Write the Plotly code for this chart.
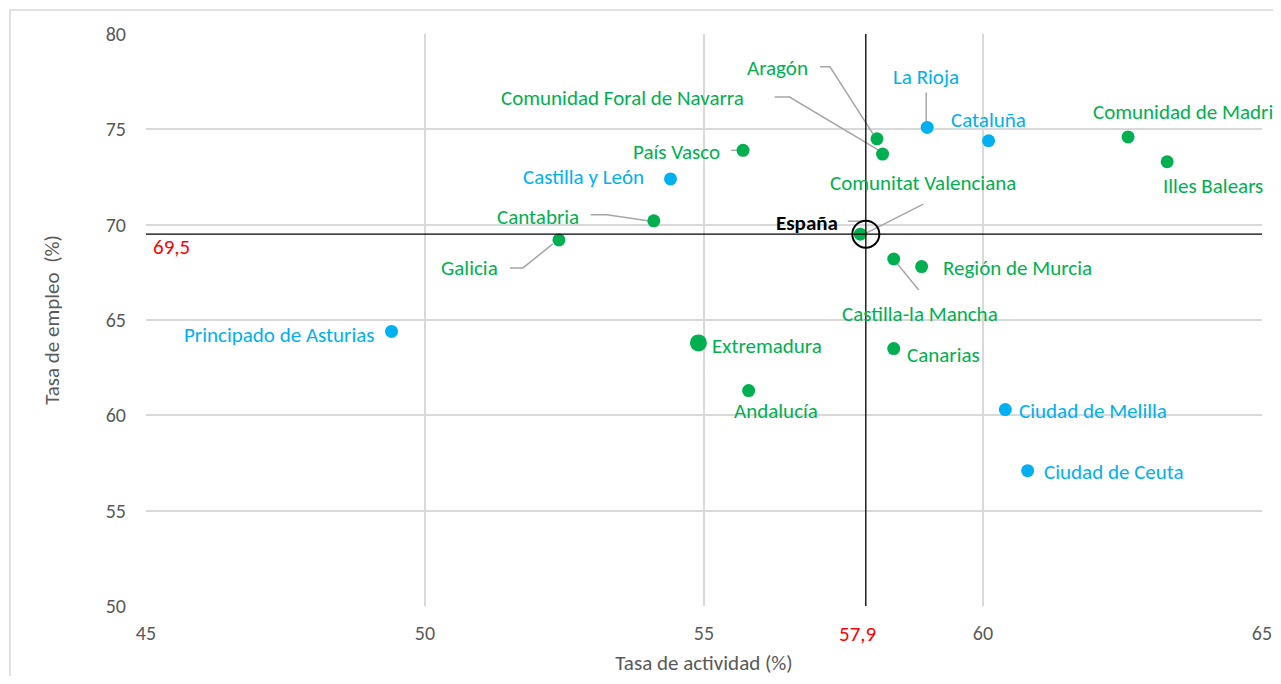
import plotly.graph_objects as go

# datos por comunidad: tasa de actividad (x) y tasa de empleo (y)
regions = ["Principado de Asturias", "Galicia", "Cantabria", "Castilla y León", "País Vasco",
           "Extremadura", "Andalucía", "Aragón", "Comunidad Foral de Navarra", "La Rioja",
           "Cataluña", "Comunitat Valenciana", "Castilla-la Mancha", "Región de Murcia",
           "Canarias", "Ciudad de Melilla", "Ciudad de Ceuta", "Comunidad de Madrid",
           "Illes Balears"]
actividad = [49.4, 52.4, 54.1, 54.4, 55.7, 54.9, 55.8, 58.1, 58.2, 59.0,
             60.1, 57.8, 58.4, 58.9, 58.4, 60.4, 60.8, 62.6, 63.3]
empleo = [64.4, 69.2, 70.2, 72.4, 73.9, 63.8, 61.3, 74.5, 73.7, 75.1,
          74.4, 69.5, 68.2, 67.8, 63.5, 60.3, 57.1, 74.6, 73.3]
grupo = ["b", "g", "g", "b", "g", "g", "g", "g", "g", "b",
         "b", "g", "g", "g", "g", "b", "b", "g", "g"]

espana_x = 57.9
espana_y = 69.5

GREEN = "#00B050"
BLUE = "#00B0F0"
GREY = "#A6A6A6"
FONT = "Calibri, Carlito, Lato, sans-serif"
FS = 21

# la pagina tiene 8px de margen en el body
W, H = 1265, 668
ML, MR, MT, MB = 138, 11, 26, 70
XR = [45, 65]
YR = [50, 80]
kx = (W - ML - MR) / (XR[1] - XR[0])
ky = (H - MT - MB) / (YR[1] - YR[0])

# etiqueta: (dx, dy en px desde el punto, anchor), lineas guia en px
lab_pos = {
    "Principado de Asturias": (-15, 4, "right"),
    "Galicia": (-59, 28, "right"),
    "Cantabria": (-73, -4, "right"),
    "Castilla y León": (-25, -2, "right"),
    "País Vasco": (-21, 2, "right"),
    "Extremadura": (12, 3, "left"),
    "Andalucía": (27, 20, "center"),
    "Aragón": (-67, -71, "right"),
    "Comunidad Foral de Navarra": (-137, -56, "right"),
    "La Rioja": (-1, -50, "center"),
    "Cataluña": (0, -21, "center"),
    "Comunitat Valenciana": (63, -51, "center"),
    "Castilla-la Mancha": (26, 55, "center"),
    "Región de Murcia": (19, 1, "left"),
    "Canarias": (11, 6, "left"),
    "Ciudad de Melilla": (12, 1, "left"),
    "Ciudad de Ceuta": (14, 1, "left"),
    "Comunidad de Madrid": (-37, -25, "left"),
    "Illes Balears": (-6, 24, "left"),
}
leaders = {
    "Galicia": [(-49, 28), (-36, 28), (-6, 4)],
    "Cantabria": [(-63, -6), (-47, -6), (-6, 0)],
    "País Vasco": [(-12, 0), (-5, 0)],
    "Aragón": [(-57, -72), (-47, -72), (-4, -5)],
    "Comunidad Foral de Navarra": [(-108, -57), (-93, -57), (-4, -4)],
    "La Rioja": [(-1, -35), (-1, -5)],
    "Comunitat Valenciana": [(63, -30), (6, -1)],
    "Castilla-la Mancha": [(25, 31), (3, 4)],
}

fig = go.Figure()

# lineas guia
for name, pts in leaders.items():
    i = regions.index(name)
    lx = [actividad[i] + dx / kx for dx, dy in pts]
    ly = [empleo[i] - dy / ky for dx, dy in pts]
    fig.add_trace(go.Scatter(x=lx, y=ly, mode="lines", line=dict(color=GREY, width=1.5),
                             hoverinfo="skip", showlegend=False))
# Espana guia
fig.add_trace(go.Scatter(x=[espana_x - 18 / kx, espana_x - 4 / kx], y=[espana_y + 13 / ky] * 2,
                         mode="lines", line=dict(color=GREY, width=1.5), hoverinfo="skip",
                         showlegend=False))

# cruz de referencia
fig.add_shape(type="line", x0=espana_x, x1=espana_x, y0=YR[0], y1=YR[1],
              line=dict(color="black", width=1.3))
fig.add_shape(type="line", x0=XR[0], x1=XR[1], y0=espana_y, y1=espana_y,
              line=dict(color="black", width=1.3))

cols = [GREEN if g == "g" else BLUE for g in grupo]
sizes = [17 if r == "Extremadura" else 13 for r in regions]
fig.add_trace(go.Scatter(x=actividad, y=empleo, mode="markers", text=regions,
                         marker=dict(color=cols, size=sizes, opacity=1, line=dict(width=0)),
                         showlegend=False, hovertemplate="%{text}: %{x}, %{y}<extra></extra>"))
fig.add_trace(go.Scatter(x=[espana_x], y=[espana_y], mode="markers",
                         marker=dict(symbol="circle-open", size=27, color="black",
                                     line=dict(width=2)),
                         showlegend=False, hoverinfo="skip"))

for i, r in enumerate(regions):
    dx, dy, anc = lab_pos[r]
    fig.add_annotation(x=actividad[i], y=empleo[i], text=r, showarrow=False,
                       xanchor=anc, yanchor="middle", xshift=dx, yshift=-dy,
                       font=dict(family=FONT, size=FS, color=cols[i]))

fig.add_annotation(x=espana_x, y=espana_y, text="<b>España</b>", showarrow=False,
                   xanchor="right", yanchor="middle", xshift=-26, yshift=11,
                   font=dict(family=FONT, size=FS, color="black"))
fig.add_annotation(x=XR[0], y=espana_y, text="69,5", showarrow=False,
                   xanchor="left", yanchor="middle", xshift=5, yshift=-13,
                   font=dict(family=FONT, size=FS, color="red"))
fig.add_annotation(x=espana_x, y=YR[0], text="57,9", showarrow=False,
                   xanchor="center", yanchor="middle", xshift=-8, yshift=-28,
                   font=dict(family=FONT, size=FS, color="red"))

# marco exterior
fig.add_shape(type="rect", xref="paper", yref="paper",
              x0=(2 - ML) / (W - ML - MR), x1=(1300 - ML) / (W - ML - MR),
              y0=-(700 - (H - MB)) / (H - MT - MB), y1=((H - MB) - 2) / (H - MT - MB),
              line=dict(color="#D9D9D9", width=1.5), layer="below")

fig.update_xaxes(range=XR, dtick=5, showgrid=True, gridcolor="#D9D9D9", gridwidth=1.5,
                 zeroline=False, showline=False, ticks="", ticklabelstandoff=13,
                 automargin=False,
                 tickfont=dict(family=FONT, size=20, color="#595959"),
                 title=dict(text="Tasa de actividad (%)", standoff=14,
                            font=dict(family=FONT, size=FS, color="#595959")))
fig.update_yaxes(range=YR, dtick=5, showgrid=True, gridcolor="#D9D9D9", gridwidth=1.5,
                 zeroline=False, showline=False, ticks="", ticklabelstandoff=19,
                 automargin=False,
                 tickfont=dict(family=FONT, size=20, color="#595959"),
                 title=dict(text="Tasa de empleo  (%)", standoff=40,
                            font=dict(family=FONT, size=FS, color="#595959")))

fig.update_layout(width=W, height=H, margin=dict(l=ML, r=MR, t=MT, b=MB),
                  plot_bgcolor="white", paper_bgcolor="white", showlegend=False)

fig.write_html("out.html")
